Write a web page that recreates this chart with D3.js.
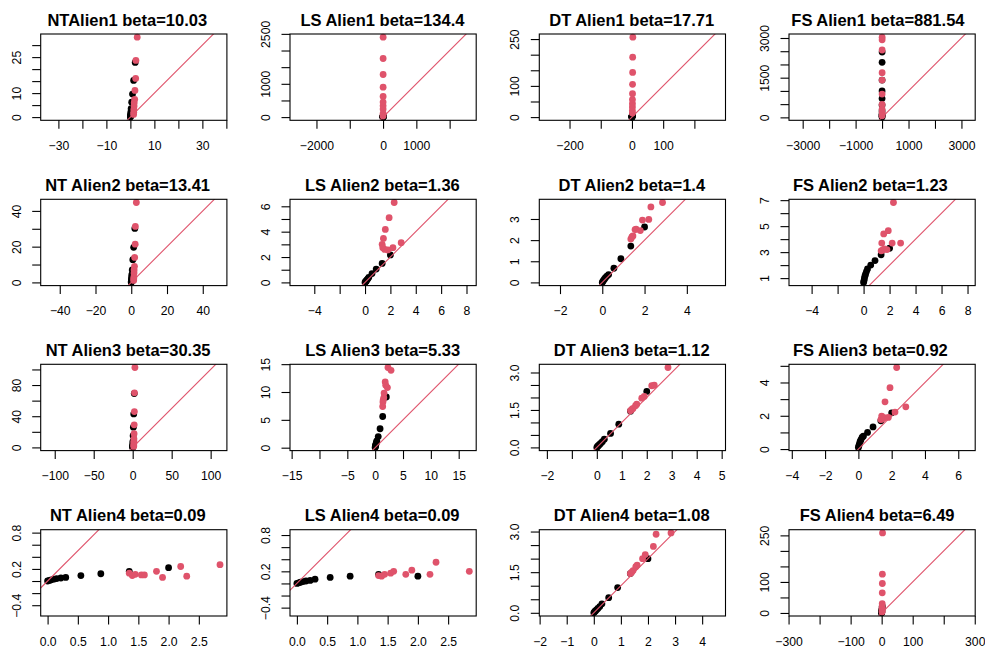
<!DOCTYPE html>
<html><head><meta charset="utf-8">
<script src="https://cdn.jsdelivr.net/npm/d3@7"></script>
<style>body{margin:0;background:#fff}svg{display:block}</style>
</head><body>
<script>
// ---------- DATA ----------
const titles = ["NTAlien1 beta=10.03","LS Alien1 beta=134.4","DT Alien1 beta=17.71","FS Alien1 beta=881.54",
  "NT Alien2 beta=13.41","LS Alien2 beta=1.36","DT Alien2 beta=1.4","FS Alien2 beta=1.23",
  "NT Alien3 beta=30.35","LS Alien3 beta=5.33","DT Alien3 beta=1.12","FS Alien3 beta=0.92",
  "NT Alien4 beta=0.09","LS Alien4 beta=0.09","DT Alien4 beta=1.08","FS Alien4 beta=6.49"];

// observed values (shared by all panels)
const xBlack = [0.00,0.03,0.06,0.10,0.15,0.22,0.30,0.55,0.88,1.35,2.00];
const xRed   = [1.35,1.40,1.45,1.55,1.60,1.80,1.90,2.20,2.30,2.85];

// fitted values, per panel
const yBlackNT1 = [0,0.2,0.5,0.9,1.4,2.2,3.5,6.2,9.6,15.3,22.8];
const yRedNT1   = [1.1,2.0,3.2,4.6,6.0,7.4,11.1,16.1,23.6,33.3];
const yBlackLS1 = [0,1,2,3,5,8,12,18,25,32,40];
const yRedLS1   = [30,110,240,340,450,620,900,1280,1760,2400];
const yBlackDT1 = [0,0.3,0.6,1,1.5,2,3,4,5,6,7];
const yRedDT1   = [13,21,32,43,56,75,105,143,192,256];
const yBlackFS1 = [10,40,80,122,245,465,710,1000,1408,2080,2470];
const yRedFS1   = [60,184,306,490,880,1408,1690,2546,2930,3030];

const yBlackNT2 = [0,0.3,0.7,1.2,1.9,3.0,4.3,7.0,12.7,19.6,30.2];
const yRedNT2   = [1.1,2.0,3.0,5.2,7.0,9.0,14.0,21.4,31.3,44.7];
const yBlackLS2 = [0,0.03,0.07,0.12,0.2,0.28,0.4,0.7,1.05,1.5,2.17];
const yRedLS2   = [3.0,2.74,3.47,2.6,4.18,2.56,5.1,2.74,6.3,3.13];
const yBlackDT2 = [0,0.05,0.1,0.15,0.22,0.3,0.37,0.67,1.12,1.72,2.62];
const yRedDT2   = [2.05,2.15,2.2,2.5,2.52,2.45,2.95,2.98,3.57,3.78];
const yBlackFS2 = [0.67,0.8,0.95,1.15,1.3,1.5,1.7,2.0,2.35,2.8,3.3];
const yRedFS2   = [3.1,3.7,3.15,4.4,3.25,3.2,4.65,3.7,6.82,3.7];

const yBlackNT3 = [0,0.5,1,2,3,5,7.7,15,26,43,69];
const yRedNT3   = [1.3,3.0,5.6,8.0,11.0,17.6,29,46,70,102.5];
const yBlackLS3 = [0.05,0.15,0.3,0.5,0.7,0.95,1.2,2.0,3.4,5.6,9.1];
const yRedLS3   = [7.4,8.2,8.6,9.0,9.8,11.8,11.2,10.8,14.4,13.9];
const yBlackDT3 = [0,0.04,0.07,0.11,0.16,0.23,0.33,0.56,0.93,1.45,2.24];
const yRedDT3   = [1.47,1.52,1.56,1.67,1.73,1.97,2.04,2.47,2.49,3.2];
const yBlackFS3 = [0.1,0.2,0.3,0.45,0.55,0.7,0.77,1.0,1.33,1.7,2.18];
const yRedFS3   = [1.77,1.98,1.8,1.88,2.84,1.9,3.69,2.22,4.9,2.54];

const yBlackNT4 = [0.0,0.01,0.02,0.03,0.04,0.05,0.06,0.09,0.12,0.16,0.22];
const yRedNT4   = [0.13,0.09,0.11,0.10,0.10,0.16,0.06,0.24,0.08,0.27];
const yBlackLS4 = [0.0,0.01,0.02,0.03,0.04,0.05,0.07,0.1,0.12,0.15,0.12];
const yRedLS4   = [0.13,0.12,0.15,0.17,0.2,0.15,0.22,0.15,0.35,0.2];
const yBlackDT4 = [0,0.04,0.07,0.11,0.16,0.23,0.33,0.56,0.93,1.45,2.0];
const yRedDT4   = [1.45,1.5,1.56,1.7,1.76,2.0,2.15,2.45,2.9,2.95];
const yBlackFS4 = [0.5,1,1.5,2,3,4,5,7,10,15,22];
const yRedFS4   = [3,6,10,15,20,30,65,95,125,258];

// axis ticks and the labels R actually printed
const xTicks = [
  [-30,-20,-10,0,10,20,30,40],[-2000,-1000,0,1000,2000],[-200,-100,0,100,200],[-3000,-2000,-1000,0,1000,2000,3000],
  [-40,-20,0,20,40],[-4,-2,0,2,4,6,8],[-2,0,2,4],[-4,-2,0,2,4,6,8],
  [-100,-50,0,50,100],[-15,-10,-5,0,5,10,15],[-2,-1,0,1,2,3,4,5],[-4,-2,0,2,4,6],
  [0,0.5,1,1.5,2,2.5],[0,0.5,1,1.5,2,2.5],[-2,-1,0,1,2,3,4],[-300,-200,-100,0,100,200,300]];
const xLabels = [
  ["−30","−10","10","30"],["−2000","0","1000"],["−200","0","100"],["−3000","−1000","1000","3000"],
  ["−40","−20","0","20","40"],["−4","0","2","4","6","8"],["−2","0","2","4"],["−4","0","2","4","6","8"],
  ["−100","−50","0","50","100"],["−15","−5","0","5","10","15"],["−2","0","1","2","3","4","5"],["−4","−2","0","2","4","6"],
  ["0.0","0.5","1.0","1.5","2.0","2.5"],["0.0","0.5","1.0","1.5","2.0","2.5"],["−2","−1","0","1","2","3","4"],["−300","−100","0","100","300"]];
const yTicks = [
  [0,5,10,15,20,25,30],[0,500,1000,1500,2000,2500],[0,50,100,150,200,250],[0,500,1000,1500,2000,2500,3000],
  [0,10,20,30,40],[0,1,2,3,4,5,6],[0,1,2,3],[1,2,3,4,5,6,7],
  [0,20,40,60,80,100],[0,5,10,15],[0,0.5,1,1.5,2,2.5,3],[0,1,2,3,4,5],
  [-0.4,-0.2,0,0.2,0.4,0.6,0.8],[-0.4,-0.2,0,0.2,0.4,0.6,0.8],[0,0.5,1,1.5,2,2.5,3],[0,50,100,150,200,250]];
const yLabels = [
  ["0","10","25"],["0","1000","2500"],["0","100","250"],["0","1500","3000"],
  ["0","20","40"],["0","2","4","6"],["0","1","2","3"],["1","3","5","7"],
  ["0","40","80"],["0","5","10","15"],["0.0","1.5","3.0"],["0","2","4"],
  ["−0.4","0.2","0.8"],["−0.4","0.2","0.8"],["0.0","1.5","3.0"],["0","100","250"]];

const yBlacks = [yBlackNT1,yBlackLS1,yBlackDT1,yBlackFS1,yBlackNT2,yBlackLS2,yBlackDT2,yBlackFS2,
                 yBlackNT3,yBlackLS3,yBlackDT3,yBlackFS3,yBlackNT4,yBlackLS4,yBlackDT4,yBlackFS4];
const yReds   = [yRedNT1,yRedLS1,yRedDT1,yRedFS1,yRedNT2,yRedLS2,yRedDT2,yRedFS2,
                 yRedNT3,yRedLS3,yRedDT3,yRedFS3,yRedNT4,yRedLS4,yRedDT4,yRedFS4];

// ---------- LAYOUT / STYLE ----------
const W = 985, H = 651;
const colLeft = [40.7, 290, 539.3, 789], rowTop = [34, 199.3, 364.3, 529.7];
const bw = 186.2, bh = 86.3;
const titleDx = [-6.5,-0.7,-0.7,-4.2, -6.2,-0.7,-0.6,-11.7, -5.7,-0.4,-0.7,-11.7, -6,-1,-0.7,-5];
const RED = "#DF536B";
const FONT = "'Liberation Sans', Arial, Helvetica, sans-serif";
const num = s => +s.replace("−","-");

const svg = d3.select("body").append("svg").attr("width", W).attr("height", H)
  .style("font-family", FONT);

titles.forEach((title, i) => {
  const c = i % 4, r = Math.floor(i / 4);
  const x0 = colLeft[c], y0 = rowTop[r];
  const yb = yBlacks[i], yr = yReds[i];
  // R plot.window with asp = 1, then 4% extension
  let [xmin, xmax] = d3.extent(xBlack.concat(xRed));
  let [ymin, ymax] = d3.extent(yb.concat(yr));
  const xd = xmax - xmin, yd = ymax - ymin;
  const s = Math.min(bw / xd, bh / yd);
  const xa = 0.5 * (bw / s - xd), ya = 0.5 * (bh / s - yd);
  xmin -= xa; xmax += xa; ymin -= ya; ymax += ya;
  const ex = 0.04 * (xmax - xmin), ey = 0.04 * (ymax - ymin);
  const x = d3.scaleLinear().domain([xmin - ex, xmax + ex]).range([x0, x0 + bw]);
  const y = d3.scaleLinear().domain([ymin - ey, ymax + ey]).range([y0 + bh, y0]);

  const g = svg.append("g");
  const clipId = "clip" + i;
  g.append("clipPath").attr("id", clipId).append("rect")
    .attr("x", x0).attr("y", y0).attr("width", bw).attr("height", bh);

  // points: black then red
  g.append("g").selectAll("circle").data(xBlack.map((v, k) => [v, yb[k]])).join("circle")
    .attr("cx", d => x(d[0])).attr("cy", d => y(d[1])).attr("r", 3.4).attr("fill", "#000");
  g.append("g").selectAll("circle").data(xRed.map((v, k) => [v, yr[k]])).join("circle")
    .attr("cx", d => x(d[0])).attr("cy", d => y(d[1])).attr("r", 3.4).attr("fill", RED);

  // abline(0,1)
  const lo = Math.min(x.domain()[0], y.domain()[0]), hi = Math.max(x.domain()[1], y.domain()[1]);
  g.append("path").attr("clip-path", `url(#${clipId})`)
    .attr("d", d3.line().x(d => x(d)).y(d => y(d))([lo, hi]))
    .attr("stroke", RED).attr("stroke-width", 1.1).attr("fill", "none");

  // box
  g.append("rect").attr("x", x0).attr("y", y0).attr("width", bw).attr("height", bh)
    .attr("fill", "none").attr("stroke", "#000").attr("stroke-width", 1.1);

  // x axis
  const xlab = new Map(xLabels[i].map(sv => [num(sv), sv]));
  const gx = g.append("g").attr("transform", `translate(0,${y0 + bh})`)
    .call(d3.axisBottom(x).tickValues(xTicks[i]).tickSize(8.5).tickSizeOuter(0)
      .tickFormat(d => xlab.has(d) ? xlab.get(d) : ""));
  gx.select(".domain").remove();
  gx.selectAll(".tick line").attr("stroke", "#000").attr("stroke-width", 1.1);
  gx.selectAll(".tick text").attr("y", 29.5).attr("dy", 0)
    .style("font-size", "12.2px").attr("fill", "#000").style("font-family", FONT);

  // y axis
  const yl = new Map(yLabels[i].map(sv => [num(sv), sv]));
  const gy = g.append("g").attr("transform", `translate(${x0},0)`)
    .call(d3.axisLeft(y).tickValues(yTicks[i]).tickSize(8.5).tickSizeOuter(0)
      .tickFormat(d => yl.has(d) ? yl.get(d) : ""));
  gy.select(".domain").remove();
  gy.selectAll(".tick line").attr("stroke", "#000").attr("stroke-width", 1.1);
  gy.selectAll(".tick text").attr("x", 0).attr("y", -20).attr("dy", 0)
    .attr("transform", "rotate(-90)").attr("text-anchor", "middle")
    .style("font-size", "12.2px").attr("fill", "#000").style("font-family", FONT);

  // title
  g.append("text").attr("x", x0 + bw / 2 + titleDx[i]).attr("y", y0 - 8.5)
    .attr("text-anchor", "middle").attr("font-weight", "bold").style("font-size", "16.5px")
    .attr("fill", "#000").text(title);
});
</script>
</body></html>
